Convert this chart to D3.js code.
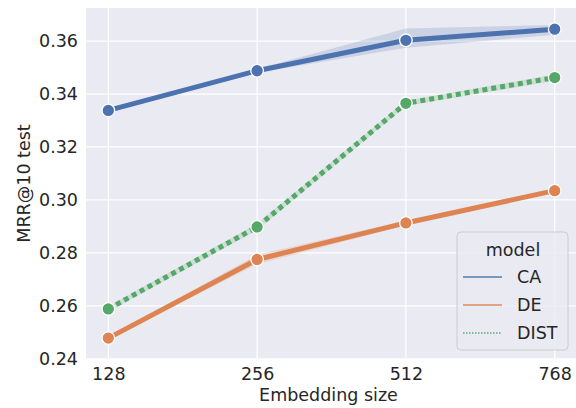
<!DOCTYPE html>
<html>
<head>
<meta charset="utf-8">
<script src="https://cdn.jsdelivr.net/npm/d3@7"></script>
<style>
  body { margin: 0; background: #fff; }
  svg { display: block; font-family: "DejaVu Sans", sans-serif; }
</style>
</head>
<body>
<div id="chart"></div>
<script>
// embedding size vs MRR@10 test, three models with confidence bands

const sizes = ["128", "256", "512", "768"];
const models = ["CA", "DE", "DIST"];
const colors = ["#4c72b0", "#dd8452", "#55a868"];

const caMean = [0.3338, 0.3488, 0.3603, 0.3645];
const caLow  = [0.3335, 0.3480, 0.3575, 0.3624];
const caHigh = [0.3341, 0.3495, 0.3648, 0.3661];

const deMean = [0.2478, 0.2775, 0.2913, 0.3035];
const deLow  = [0.2474, 0.2757, 0.2904, 0.3029];
const deHigh = [0.2482, 0.2793, 0.2922, 0.3041];

const distMean = [0.2588, 0.2898, 0.3365, 0.3462];
const distLow  = [0.2578, 0.2886, 0.3355, 0.3450];
const distHigh = [0.2598, 0.2910, 0.3375, 0.3474];

const yTicks = [0.24, 0.26, 0.28, 0.30, 0.32, 0.34, 0.36];

const series = [
  { name: "CA", mean: caMean, low: caLow, high: caHigh, dotted: false },
  { name: "DE", mean: deMean, low: deLow, high: deHigh, dotted: false },
  { name: "DIST", mean: distMean, low: distLow, high: distHigh, dotted: true }
];

const width = 576;
const height = 408;
const plot = { left: 86, right: 577, top: 8, bottom: 359 };

const svg = d3.select("#chart").append("svg")
  .attr("width", width)
  .attr("height", height);

const x = d3.scalePoint().domain(sizes).range([plot.left, plot.right]).padding(0.15);
const y = d3.scaleLinear().domain([0.2399, 0.3725]).range([plot.bottom, plot.top]);
const color = d3.scaleOrdinal().domain(models).range(colors);

svg.append("rect")
  .attr("x", plot.left)
  .attr("y", plot.top)
  .attr("width", plot.right - plot.left)
  .attr("height", plot.bottom - plot.top)
  .attr("fill", "#eaeaf2");

// grid
svg.append("g").selectAll("line.gx").data(sizes).join("line")
  .attr("x1", d => x(d)).attr("x2", d => x(d))
  .attr("y1", plot.top).attr("y2", plot.bottom)
  .attr("stroke", "#fff").attr("stroke-width", 1.2);

svg.append("g").selectAll("line.gy").data(yTicks).join("line")
  .attr("x1", plot.left).attr("x2", plot.right)
  .attr("y1", d => y(d)).attr("y2", d => y(d))
  .attr("stroke", "#fff").attr("stroke-width", 1.2);

// axes
const xAxis = svg.append("g")
  .attr("transform", `translate(0,${plot.bottom})`)
  .call(d3.axisBottom(x).tickSize(0).tickPadding(9));
const yAxis = svg.append("g")
  .attr("transform", `translate(${plot.left},0)`)
  .call(d3.axisLeft(y).tickValues(yTicks).tickFormat(d3.format(".2f")).tickSize(0).tickPadding(8));

[xAxis, yAxis].forEach(a => {
  a.select(".domain").remove();
  a.selectAll("text")
    .attr("fill", "#262626")
    .style("font-family", "DejaVu Sans")
    .style("font-size", "17.5px");
});

svg.append("text")
  .attr("x", (plot.left + plot.right) / 2 - 3)
  .attr("y", 401)
  .attr("text-anchor", "middle")
  .attr("fill", "#262626")
  .style("font-size", "17.5px")
  .text("Embedding size");

svg.append("text")
  .attr("transform", `translate(30,${(plot.top + plot.bottom) / 2}) rotate(-90)`)
  .attr("text-anchor", "middle")
  .attr("fill", "#262626")
  .style("font-size", "17.5px")
  .text("MRR@10 test");

// bands
const area = d3.area()
  .x((d, i) => x(sizes[i]))
  .y0(d => y(d[0]))
  .y1(d => y(d[1]));

const line = d3.line()
  .x((d, i) => x(sizes[i]))
  .y(d => y(d));

series.forEach(s => {
  svg.append("path")
    .datum(s.low.map((v, i) => [v, s.high[i]]))
    .attr("d", area)
    .attr("fill", color(s.name))
    .attr("fill-opacity", 0.2);
});

series.forEach(s => {
  svg.append("path")
    .datum(s.mean)
    .attr("d", line)
    .attr("fill", "none")
    .attr("stroke", color(s.name))
    .attr("stroke-width", 5)
    .attr("stroke-dasharray", s.dotted ? "5,4" : null);

  svg.append("g").selectAll("circle").data(s.mean).join("circle")
    .attr("cx", (d, i) => x(sizes[i]))
    .attr("cy", d => y(d))
    .attr("r", 6.3)
    .attr("fill", color(s.name))
    .attr("stroke", "#fff")
    .attr("stroke-width", 1.3);
});

// legend
const legend = svg.append("g").attr("transform", "translate(457,232)");
legend.append("rect")
  .attr("width", 111)
  .attr("height", 118)
  .attr("rx", 4)
  .attr("fill", "#eaeaf2")
  .attr("fill-opacity", 0.8)
  .attr("stroke", "#cccccc")
  .attr("stroke-width", 1);

legend.append("text")
  .attr("x", 56)
  .attr("y", 24)
  .attr("text-anchor", "middle")
  .attr("fill", "#262626")
  .style("font-size", "17.5px")
  .text("model");

series.forEach((s, i) => {
  const ly = 45 + i * 28;
  legend.append("line")
    .attr("x1", 6).attr("x2", 45)
    .attr("y1", ly).attr("y2", ly)
    .attr("stroke", color(s.name))
    .attr("stroke-width", 2)
    .attr("stroke-opacity", 0.7)
    .attr("stroke-dasharray", s.dotted ? "1.5,1.5" : null);
  legend.append("text")
    .attr("x", 60)
    .attr("y", ly + 6)
    .attr("fill", "#262626")
    .style("font-size", "17.5px")
    .text(s.name);
});
</script>
</body>
</html>
